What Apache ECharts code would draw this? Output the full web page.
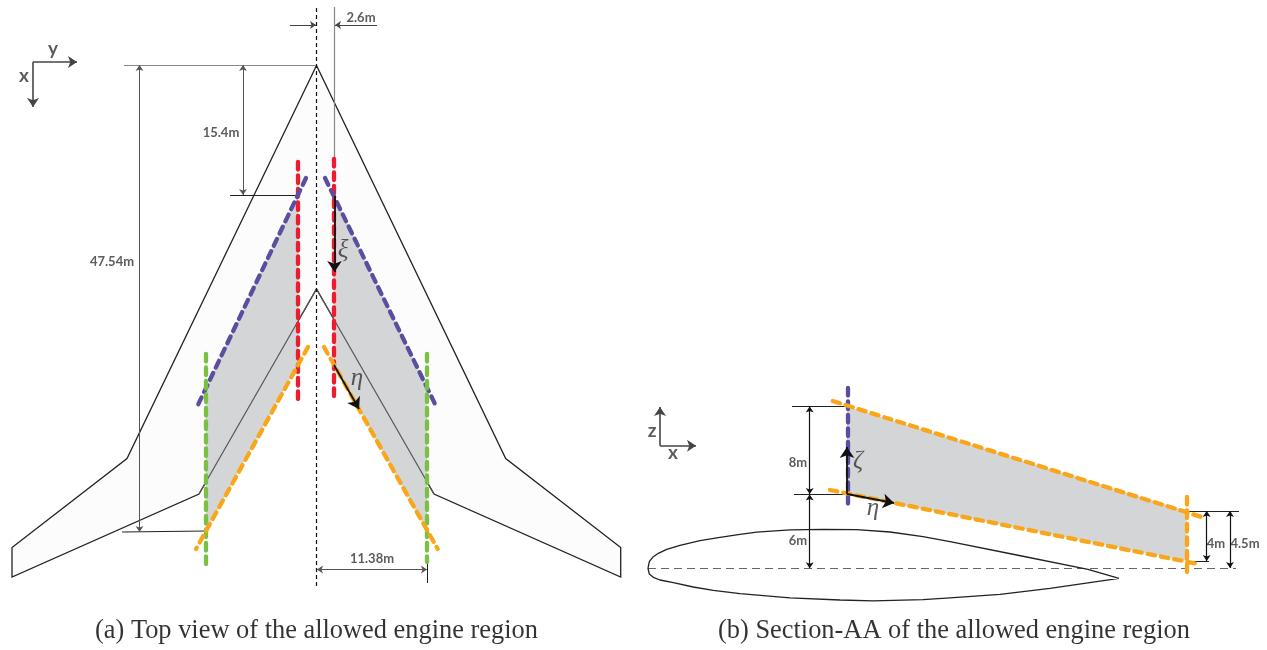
<!DOCTYPE html>
<html>
<head>
<meta charset="utf-8">
<title>Allowed engine region</title>
<style>
  html, body { margin: 0; background: #fff; }
  #main { width: 1267px; height: 650px; }
</style>
<script src="https://cdn.jsdelivr.net/npm/echarts@6/dist/echarts.min.js"></script>
</head>
<body>
<div id="main"></div>
<script>
const wingOutline = [[316.5,65.5],[127,458.5],[12,547.5],[12,577],[199,494],[316.5,289],[434,494],[620.7,577],[620.7,547.5],[505.7,458.5]]
const regionLeft = [[298,196],[206,388],[206,530],[298,364]]
const regionRight = [[334,196],[427,388],[427,530],[334,364]]
const regionSection = [[847,406.5],[1186.5,511],[1186.5,560.7],[847,494.3]]

const airfoilTop = [[648,568.3],[649.3,561.7],[652.7,557.3],[658.3,553.3],[666.7,549.3],[680,545.3],[700,540.7],[720,537.3],[740,534.3],[756.7,532.2],[790,529.9],[823,529.3],[856.7,529.7],[890,532],[923,536.7],[950,541.7],[1016.7,555],[1088,569.3],[1119,578.3]]
const airfoilBottom = [[1119,578.3],[1050,588.3],[1000,594.3],[950,597.9],[923,599.7],[873,600.8],[840,600],[790,597.9],[740,593.7],[713.3,590.3],[693.3,587],[673.3,582.7],[660,580],[653.3,577.3],[649.3,574],[648,568.3]]

const redLines = [[298,162,298,399],[334,159,334,401]]
const purpleLines = [[306,178,197,407],[325,178,436,406],[847.3,388,847.3,504]]
const greenLines = [[205.5,354,205.5,566],[427,354,427,562]]
const orangeLines = [[308,347,196,549],[324,347,437.7,549],[832.7,401,1200.7,516.7],[830,490,1198,564],[1186.7,497,1186.7,573]]

const innerEdges = [[316.5,289,199,494],[316.5,289,434,494]]
const centerLines = [[316.5,8,316.5,586]]
const chordLines = [[648,568.3,1236,568.3]]
const guideLines = [[334.3,7,334.3,160],[124,65,316,65]]
const guideDarkLines = [[122,532,206,531],[230,195,298,195],[427,560,427,583],[792,406,847,406],[794,494.3,847,494.3],[1186,511,1239,511],[1186,561,1209,561]]
const singleArrows = [[290,25,316,25],[377,25,335,25]]
const doubleArrows = [[139.5,65,139.5,532],[243,65,243,195],[317,569.5,427,569.5]]
const doubleDarkArrows = [[809.7,406.5,809.7,494],[809.7,494.5,809.7,568.3],[1206.7,511,1206.7,561],[1230,511,1230,568]]
const axisArrows = [[33,62,77,62],[33,62,33,107],[660,445.7,660,407],[660,445.7,696,445.7]]
const boldArrows = [[334.5,196,334.5,272],[334,365,359,409],[847,494,847,447],[847,494,894,503]]

const dimLabels = [[361,18,'2.6m'],[221,133,'15.4m'],[112,262,'47.54m'],[372,559,'11.38m'],[798,463,'8m'],[798,541,'6m'],[1216,544,'4m'],[1245,544,'4.5m']]
const axisLabels = [[53,49,'y'],[24,76,'x'],[652,431,'z'],[673,453,'x']]
const greekLabels = [[343,250,'ξ'],[357,378,'η'],[858,461,'ζ'],[873,508,'η']]
const captions = [[316.5,631,'(a) Top view of the allowed engine region'],[954,631,'(b) Section-AA of the allowed engine region']]

function toCoords (list) {
  return list.map(l => ({ coords: [[l[0], l[1]], [l[2], l[3]]] }))
}

function polygon (points, fill, stroke) {
  return {
    type: 'custom',
    coordinateSystem: 'cartesian2d',
    silent: true,
    data: [[points[0][0], points[0][1]]],
    renderItem: (params, api) => ({
      type: 'polygon',
      shape: { points: points.map(p => api.coord(p)) },
      style: { fill: fill, stroke: stroke, lineWidth: 1.3 }
    })
  }
}

function segments (list, color, width, extra) {
  return Object.assign({
    type: 'lines',
    coordinateSystem: 'cartesian2d',
    silent: true,
    symbol: 'none',
    data: toCoords(list),
    lineStyle: { color: color, width: width, opacity: 1 }
  }, extra)
}

function dashed (list, color) {
  return segments(list, color, 4.3, {
    lineStyle: { color: color, width: 4.3, opacity: 1, type: [7.5, 6], cap: 'round' }
  })
}

function texts (list, fontFamily, fontSize, color, fontStyle, fontWeight) {
  return {
    type: 'scatter',
    silent: true,
    symbolSize: 0,
    data: list,
    label: {
      show: true,
      position: 'inside',
      align: 'center',
      verticalAlign: 'middle',
      formatter: p => p.data[2],
      fontFamily: fontFamily,
      fontSize: fontSize,
      color: color,
      fontStyle: fontStyle || 'normal',
      fontWeight: fontWeight || 'normal'
    }
  }
}

const chart = echarts.init(document.getElementById('main'))
chart.setOption({
  animation: false,
  backgroundColor: '#fff',
  grid: { left: 0, right: 0, top: 0, bottom: 0 },
  xAxis: { type: 'value', min: 0, max: 1267, show: false },
  yAxis: { type: 'value', min: 0, max: 650, inverse: true, show: false },
  series: [
    polygon(wingOutline, '#fcfcfc', '#222'),
    polygon(regionLeft, '#d3d5d7', 'none'),
    polygon(regionRight, '#d3d5d7', 'none'),
    polygon(regionSection, '#d3d5d7', 'none'),
    // inner wing edge runs over the grey regions
    segments(innerEdges, '#555', 1.2),
    {
      type: 'line',
      silent: true,
      data: airfoilBottom.concat(airfoilTop.slice(1)),
      smooth: false,
      showSymbol: false,
      lineStyle: { color: '#222', width: 1.3 }
    },
    segments(centerLines, '#111', 1.2, { lineStyle: { color: '#111', width: 1.2, opacity: 1, type: [4, 3] } }),
    segments(chordLines, '#666', 1, { lineStyle: { color: '#666', width: 1, opacity: 1, type: [8, 5] } }),
    segments(guideLines, '#888', 1.2),
    segments(guideDarkLines, '#222', 1),
    dashed(redLines, '#ee1c2e'),
    dashed(purpleLines, '#5a4ea0'),
    dashed(greenLines, '#7ac143'),
    dashed(orangeLines, '#faa61a'),
    segments(singleArrows, '#444', 1, { symbol: ['none', 'arrow'], symbolSize: 6 }),
    segments(doubleArrows, '#555', 1, { symbol: ['arrow', 'arrow'], symbolSize: 6 }),
    segments(doubleDarkArrows, '#111', 1.2, { symbol: ['arrow', 'arrow'], symbolSize: 6 }),
    segments(axisArrows, '#444', 1.6, { symbol: ['none', 'arrow'], symbolSize: 9 }),
    segments(boldArrows, '#111', 1.8, { symbol: ['none', 'arrow'], symbolSize: 11 }),
    texts(dimLabels, 'Lato', 13, '#333', 'normal', 'bold'),
    texts(axisLabels, 'Lato', 19, '#333', 'normal', 'bold'),
    texts(greekLabels, 'Liberation Serif', 25, '#333', 'italic'),
    texts(captions, 'Liberation Serif', 26.4, '#000')
  ]
})
</script>
</body>
</html>
